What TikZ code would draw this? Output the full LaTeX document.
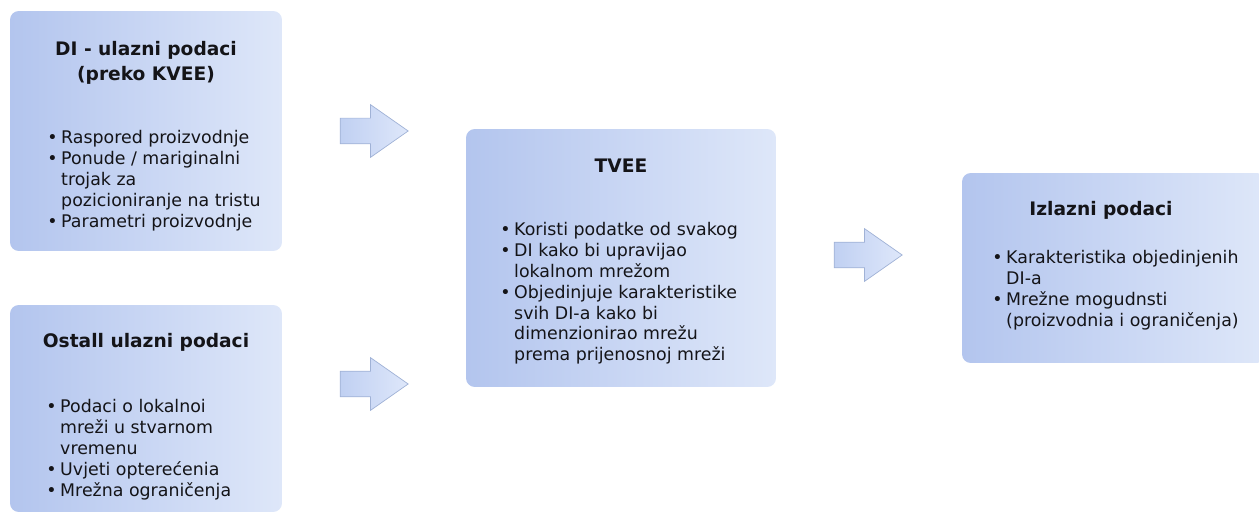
\documentclass[tikz,border=0pt]{standalone}
\usepackage{fontspec}
\setmainfont{DejaVu Sans}
\usetikzlibrary{shapes.arrows}

\definecolor{boxleft}{RGB}{179,197,238}
\definecolor{boxright}{RGB}{222,231,249}
\definecolor{arrowleft}{RGB}{192,208,242}
\definecolor{arrowright}{RGB}{222,231,250}
\definecolor{arrowline}{RGB}{160,178,214}
\definecolor{ink}{RGB}{20,20,24}

% bullet column + text column
\newenvironment{bullets}{\begin{tabular}{@{}p{7.9pt}@{}l@{}}}{\end{tabular}}
\newcommand{\bul}{\textbullet}

\tikzset{
	panel/.style = {rectangle, rounded corners = 5pt, inner sep = 0pt,
					left color = boxleft, right color = boxright},
	heading/.style = {font = \fontsize{10.6}{14.2}\selectfont\bfseries,
					  text = ink, align = center, anchor = north, inner sep = 0pt},
	points/.style = {font = \fontsize{9.9}{11.9}\selectfont, text = ink,
					 anchor = north west, inner sep = 0pt},
	flow/.style = {single arrow, draw = arrowline, line width = 0.4pt,
				   left color = arrowleft, right color = arrowright,
				   minimum height = 1.36cm, minimum width = 1.04cm,
				   inner xsep = 0pt, inner ysep = 0.25cm,
				   single arrow head extend = 0.27cm,
				   single arrow tip angle = 70}
}

\begin{document}
\begin{tikzpicture}[x = 0.02cm, y = -0.02cm]

	\useasboundingbox (0,0) rectangle (1259,513);
	\clip (0,0) rectangle (1259,513);

	% boxes
	\draw (146,131) node[panel, minimum width = 5.44cm,
					 minimum height = 4.8cm] (di) {};
	\draw (146,408.5) node[panel, minimum width = 5.44cm,
					 minimum height = 4.14cm] (ostali) {};
	\draw (621,258) node[panel, minimum width = 6.2cm,
					 minimum height = 5.16cm] (tvee) {};
	\draw (1114,268) node[panel, minimum width = 6.08cm,
					 minimum height = 3.8cm] (izlaz) {};

	% texts
	\draw (146,37.5) node[heading] (diT) {\strut DI - ulazni podaci\\(preko KVEE)};
	\draw (47,128.4) node[points] (diL) {\begin{bullets}
		\bul & Raspored proizvodnje\\
		\bul & Ponude / mariginalni\\
			 & trojak za\\
			 & pozicioniranje na tristu\\
		\bul & Parametri proizvodnje
	\end{bullets}};

	\draw (146,329.5) node[heading] (ostaliT) {\strut Ostall ulazni podaci};
	\draw (46,397.4) node[points] (ostaliL) {\begin{bullets}
		\bul & Podaci o lokalnoi\\
			 & mreži u stvarnom\\
			 & vremenu\\
		\bul & Uvjeti opterećenia\\
		\bul & Mrežna ograničenja
	\end{bullets}};

	\draw (621,154.5) node[heading] (tveeT) {\strut TVEE};
	\draw (500,220.4) node[points] (tveeL) {\begin{bullets}
		\bul & Koristi podatke od svakog\\
		\bul & DI kako bi upravijao\\
			 & lokalnom mrežom\\
		\bul & Objedinjuje karakteristike\\
			 & svih DI-a kako bi\\
			 & dimenzionirao mrežu\\
			 & prema prijenosnoj mreži
	\end{bullets}};

	\draw (1101,197.5) node[heading] (izlazT) {\strut Izlazni podaci};
	\draw (992,248.4) node[points] (izlazL) {\begin{bullets}
		\bul & Karakteristika objedinjenih\\
			 & DI-a\\
		\bul & Mrežne mogudnsti\\
			 & (proizvodnia i ograničenja)
	\end{bullets}};

	% arrows
	\draw (365,131) node[flow] (a1) {};
	\draw (365,384) node[flow] (a2) {};
	\draw (859,255) node[flow] (a3) {};

\end{tikzpicture}
\end{document}
